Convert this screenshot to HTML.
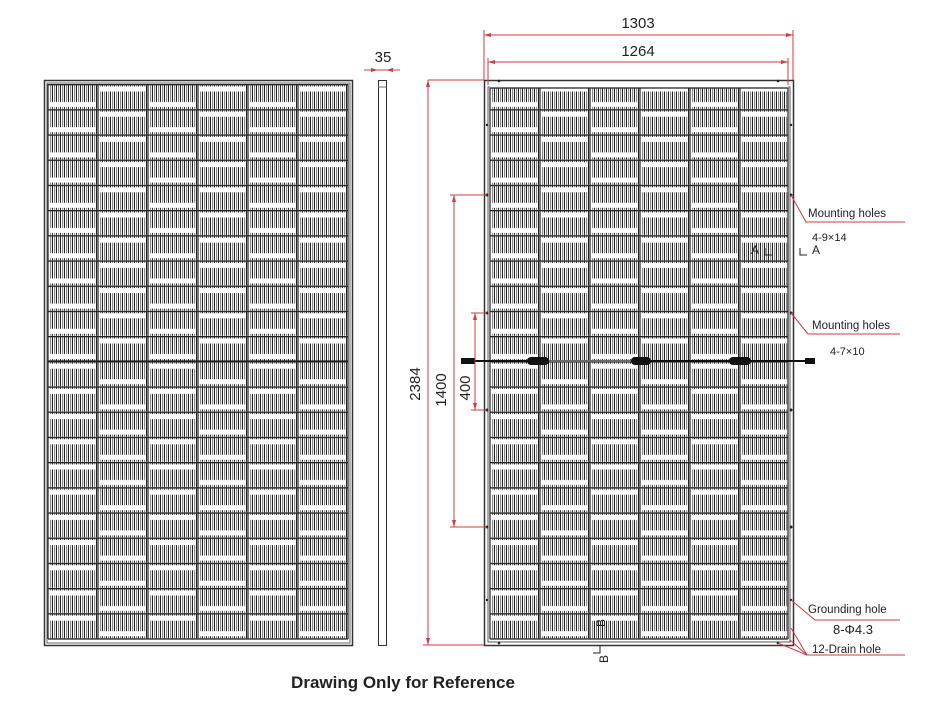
<!DOCTYPE html>
<html><head><meta charset="utf-8"><style>
html,body{margin:0;padding:0;background:#fff;}
svg{display:block;font-family:"Liberation Sans",sans-serif;}
</style></head><body>
<svg width="925" height="709" viewBox="0 0 925 709" xmlns="http://www.w3.org/2000/svg">
<defs>
 <pattern id="st" width="4" height="10" patternUnits="userSpaceOnUse">
  <rect x="0" y="0" width="1" height="10" fill="#222"/>
  <rect x="2" y="0" width="1.2" height="10" fill="#8a8a8a"/>
 </pattern>
 <pattern id="aL" x="48" y="84" width="50" height="25.2" patternUnits="userSpaceOnUse">
  <rect x="2" y="1" width="47" height="24" fill="url(#st)"/>
  <rect x="2" y="18" width="46" height="5" fill="#fff"/>
  <rect x="0" y="0" width="50" height="1.3" fill="#222"/>
 </pattern>
 <pattern id="bL" x="48" y="84" width="50" height="25.2" patternUnits="userSpaceOnUse">
  <rect x="2" y="1" width="47" height="24" fill="url(#st)"/>
  <rect x="2" y="2.5" width="46" height="5" fill="#fff"/>
  <rect x="0" y="0" width="50" height="1.3" fill="#222"/>
 </pattern>
 <pattern id="aR" x="490" y="84" width="50" height="25.2" patternUnits="userSpaceOnUse">
  <rect x="2" y="1" width="47" height="24" fill="url(#st)"/>
  <rect x="2" y="18" width="46" height="5" fill="#fff"/>
  <rect x="0" y="0" width="50" height="1.3" fill="#222"/>
 </pattern>
 <pattern id="bR" x="490" y="84" width="50" height="25.2" patternUnits="userSpaceOnUse">
  <rect x="2" y="1" width="47" height="24" fill="url(#st)"/>
  <rect x="2" y="2.5" width="46" height="5" fill="#fff"/>
  <rect x="0" y="0" width="50" height="1.3" fill="#222"/>
 </pattern>
</defs>

<!-- LEFT PANEL -->
<rect x="44.5" y="80.5" width="308" height="565" fill="#fff" stroke="#333" stroke-width="1.5"/>
<rect x="47" y="83" width="303" height="560" fill="none" stroke="#666" stroke-width="1"/>
<g>
 <rect x="48" y="84" width="50" height="277" fill="url(#aL)"/>
 <rect x="98" y="84" width="50" height="277" fill="url(#bL)"/>
 <rect x="148" y="84" width="50" height="277" fill="url(#aL)"/>
 <rect x="198" y="84" width="50" height="277" fill="url(#bL)"/>
 <rect x="248" y="84" width="50" height="277" fill="url(#aL)"/>
 <rect x="298" y="84" width="50" height="277" fill="url(#bL)"/>
 <rect x="48" y="361" width="50" height="278" fill="url(#bL)"/>
 <rect x="98" y="361" width="50" height="278" fill="url(#aL)"/>
 <rect x="148" y="361" width="50" height="278" fill="url(#bL)"/>
 <rect x="198" y="361" width="50" height="278" fill="url(#aL)"/>
 <rect x="248" y="361" width="50" height="278" fill="url(#bL)"/>
 <rect x="298" y="361" width="50" height="278" fill="url(#aL)"/>
 <g stroke="#222" stroke-width="1.2">
  <line x1="98" y1="84" x2="98" y2="639"/><line x1="148" y1="84" x2="148" y2="639"/>
  <line x1="198" y1="84" x2="198" y2="639"/><line x1="248" y1="84" x2="248" y2="639"/>
  <line x1="298" y1="84" x2="298" y2="639"/><line x1="48" y1="84" x2="48" y2="639"/><line x1="348" y1="84" x2="348" y2="639"/>
  <line x1="48" y1="361" x2="348" y2="361"/><line x1="48" y1="639" x2="348" y2="639"/>
 </g>
</g>

<!-- SIDE VIEW -->
<rect x="378.5" y="80.5" width="8" height="565" fill="#fff" stroke="#333" stroke-width="1"/>
<line x1="378" y1="87" x2="386" y2="87" stroke="#666"/>

<!-- RIGHT PANEL -->
<rect x="484.5" y="80.5" width="309" height="565" fill="#fff" stroke="#333" stroke-width="1.5"/>
<rect x="488" y="87" width="302" height="555" fill="none" stroke="#555" stroke-width="1"/>
<g>
 <rect x="490" y="84" width="50" height="277" fill="url(#aR)"/>
 <rect x="540" y="84" width="50" height="277" fill="url(#bR)"/>
 <rect x="590" y="84" width="50" height="277" fill="url(#aR)"/>
 <rect x="640" y="84" width="50" height="277" fill="url(#bR)"/>
 <rect x="690" y="84" width="50" height="277" fill="url(#aR)"/>
 <rect x="740" y="84" width="48" height="277" fill="url(#bR)"/>
 <rect x="490" y="361" width="50" height="278" fill="url(#bR)"/>
 <rect x="540" y="361" width="50" height="278" fill="url(#aR)"/>
 <rect x="590" y="361" width="50" height="278" fill="url(#bR)"/>
 <rect x="640" y="361" width="50" height="278" fill="url(#aR)"/>
 <rect x="690" y="361" width="50" height="278" fill="url(#bR)"/>
 <rect x="740" y="361" width="48" height="278" fill="url(#aR)"/>
 <rect x="490" y="82" width="298" height="6" fill="#fff"/>
 <g stroke="#222" stroke-width="1.2">
  <line x1="490" y1="88" x2="490" y2="639"/><line x1="540" y1="88" x2="540" y2="639"/>
  <line x1="590" y1="88" x2="590" y2="639"/><line x1="640" y1="88" x2="640" y2="639"/>
  <line x1="690" y1="88" x2="690" y2="639"/><line x1="740" y1="88" x2="740" y2="639"/>
  <line x1="788" y1="88" x2="788" y2="639"/>
  <line x1="490" y1="88" x2="788" y2="88"/><line x1="490" y1="639" x2="788" y2="639"/>
 </g>
 <g fill="#222">
  <circle cx="487" cy="195" r="1.5"/><circle cx="791" cy="195" r="1.5"/>
  <circle cx="487" cy="313" r="1.5"/><circle cx="791" cy="313" r="1.5"/>
  <circle cx="487" cy="410" r="1.5"/><circle cx="791" cy="410" r="1.5"/>
  <circle cx="487" cy="527" r="1.5"/><circle cx="791" cy="527" r="1.5"/>
  <circle cx="487" cy="125" r="1.2"/><circle cx="791" cy="125" r="1.2"/>
  <circle cx="487" cy="600" r="1.2"/><circle cx="791" cy="600" r="1.2"/>
  <circle cx="499" cy="81" r="1.3"/><circle cx="778" cy="81" r="1.3"/>
  <circle cx="499" cy="643" r="1.3"/><circle cx="778" cy="643" r="1.3"/>
 </g>
</g>

<!-- CABLE -->
<g>
 <line x1="462" y1="361" x2="815" y2="361" stroke="#111" stroke-width="2"/>
 <rect x="461" y="358" width="14" height="6" fill="#111"/>
 <rect x="805" y="358" width="10" height="6" fill="#111"/>
 <rect x="527" y="357" width="22" height="8" rx="4" fill="#111"/>
 <rect x="631" y="357" width="20" height="8" rx="4" fill="#111"/>
 <rect x="729" y="357" width="22" height="8" rx="4" fill="#111"/>
 <line x1="549" y1="361" x2="631" y2="361" stroke="#fff" stroke-width="0.8"/>
</g>

<!-- DIMENSIONS -->
<g stroke="#d9383a" stroke-width="1" fill="none">
 <line x1="484" y1="35" x2="793" y2="35"/>
 <line x1="484" y1="30" x2="484" y2="80"/><line x1="793" y1="30" x2="793" y2="80"/>
 <line x1="488" y1="62" x2="788" y2="62"/>
 <line x1="488" y1="58" x2="488" y2="85"/><line x1="788" y1="58" x2="788" y2="85"/>
 <line x1="364" y1="70" x2="400" y2="70"/>
 <line x1="428" y1="80" x2="428" y2="645"/>
 <line x1="428" y1="80" x2="484" y2="80"/><line x1="423" y1="645" x2="484" y2="645"/>
 <line x1="454" y1="195" x2="454" y2="527"/>
 <line x1="450" y1="195" x2="487" y2="195"/><line x1="450" y1="527" x2="487" y2="527"/>
 <line x1="475" y1="313" x2="475" y2="410"/>
 <line x1="471" y1="313" x2="487" y2="313"/><line x1="471" y1="410" x2="487" y2="410"/>
 <polyline points="791,195 806,222 905,222"/>
 <polyline points="791,313 808,334 900,334"/>
 <polyline points="791,600 815,620 900,620"/>
 <polyline points="807,655 905,655"/>
 <line x1="791" y1="628" x2="807" y2="655"/><line x1="778" y1="643" x2="807" y2="655"/><line x1="790" y1="640" x2="807" y2="655"/>
</g>
<g fill="#d9383a">
 <polygon points="484,35 491,33 491,37"/><polygon points="793,35 786,33 786,37"/>
 <polygon points="488,62 495,60 495,64"/><polygon points="788,62 781,60 781,64"/>
 <polygon points="378,70 371,68 371,72"/><polygon points="386,70 393,68 393,72"/>
 <polygon points="428,80 426,87 430,87"/><polygon points="428,645 426,638 430,638"/>
 <polygon points="454,195 452,202 456,202"/><polygon points="454,527 452,520 456,520"/>
 <polygon points="475,313 473,320 477,320"/><polygon points="475,410 473,403 477,403"/>
</g>
<g fill="#222" font-size="15">
 <text x="638" y="28" text-anchor="middle">1303</text>
 <text x="638" y="56" text-anchor="middle">1264</text>
 <text x="383" y="62" text-anchor="middle">35</text>
 <text transform="translate(420,384) rotate(-90)" text-anchor="middle">2384</text>
 <text transform="translate(446,390) rotate(-90)" text-anchor="middle">1400</text>
 <text transform="translate(470,388) rotate(-90)" text-anchor="middle">400</text>
</g>
<g fill="#222" font-size="11.5">
 <text x="808" y="217">Mounting holes</text>
 <text x="812" y="241" font-size="11">4-9×14</text>
 <text x="812" y="329">Mounting holes</text>
 <text x="830" y="355" font-size="11">4-7×10</text>
 <text x="808" y="613">Grounding hole</text>
 <text x="833" y="634" font-size="13">8-Φ4.3</text>
 <text x="812" y="653">12-Drain hole</text>
 <text x="751" y="254" font-size="12">A</text>
 <text x="812" y="254" font-size="12">A</text>
 <text transform="translate(608,663) rotate(-90)" font-size="12">B</text>
 <text transform="translate(605,627) rotate(-90)" font-size="12">B</text>
</g>
<g stroke="#222" fill="none" stroke-width="1">
 <polyline points="765,248 765,255 772,255"/>
 <polyline points="800,248 800,255 807,255"/>
 <polyline points="593,653 600,653 600,646"/>
</g>
<text x="403" y="688" text-anchor="middle" font-size="17" font-weight="bold" fill="#222">Drawing Only for Reference</text>
</svg>
</body></html>
